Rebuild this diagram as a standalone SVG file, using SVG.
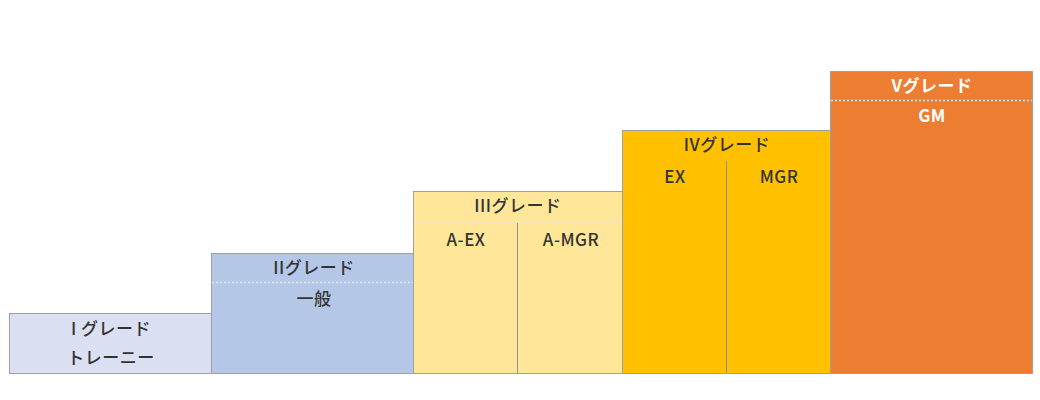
<svg xmlns="http://www.w3.org/2000/svg" width="1040" height="400" viewBox="0 0 1040 400">
<style>
.box{stroke:#a0a0a0;stroke-width:1}
.t{font-family:"Noto Sans CJK JP","Noto Sans",sans-serif;font-size:17px;font-weight:500;letter-spacing:0.5px;fill:#333333;text-anchor:middle;dominant-baseline:central}
.w{fill:#ffffff;font-weight:bold}
.dot{stroke:#e6e6e6;stroke-width:1.5;stroke-dasharray:2 2;fill:none}
.div{stroke:#8f8f8f;stroke-width:1;fill:none}
</style>
<rect width="1040" height="400" fill="#ffffff"/>
<g id="grade1">
<rect class="box" x="9.5" y="313.5" width="202" height="60" fill="#dae0f2"/>
<text class="t" x="111" y="327">I グレード</text>
<text class="t" x="111" y="356">トレーニー</text>
</g>
<g id="grade2">
<rect class="box" x="211.5" y="253.5" width="202" height="120" fill="#b4c7e7"/>
<line class="dot" x1="212" y1="282.5" x2="413" y2="282.5"/>
<text class="t" x="314" y="266">IIグレード</text>
<text class="t" x="314" y="297">一般</text>
</g>
<g id="grade3">
<rect class="box" x="413.5" y="191.5" width="209" height="182" fill="#ffe699"/>
<line class="dot" x1="414" y1="222.5" x2="622" y2="222.5"/>
<line class="div" x1="517.5" y1="223" x2="517.5" y2="373"/>
<text class="t" x="518" y="204">IIIグレード</text>
<text class="t" x="466" y="238">A-EX</text>
<text class="t" x="571" y="238">A-MGR</text>
</g>
<g id="grade4">
<rect class="box" x="622.5" y="130.5" width="208" height="243" fill="#ffc000"/>
<line class="div" x1="726.5" y1="161" x2="726.5" y2="373"/>
<text class="t" x="727" y="143">IVグレード</text>
<text class="t" x="675" y="175">EX</text>
<text class="t" x="779" y="175">MGR</text>
</g>
<g id="grade5">
<rect class="box" x="830.5" y="71.5" width="202" height="302" fill="#ed7d31"/>
<line class="dot" x1="831" y1="100.5" x2="1032" y2="100.5"/>
<text class="t w" x="932" y="84">Vグレード</text>
<text class="t w" x="932" y="114">GM</text>
</g>
<g id="connectors"></g>
</svg>
